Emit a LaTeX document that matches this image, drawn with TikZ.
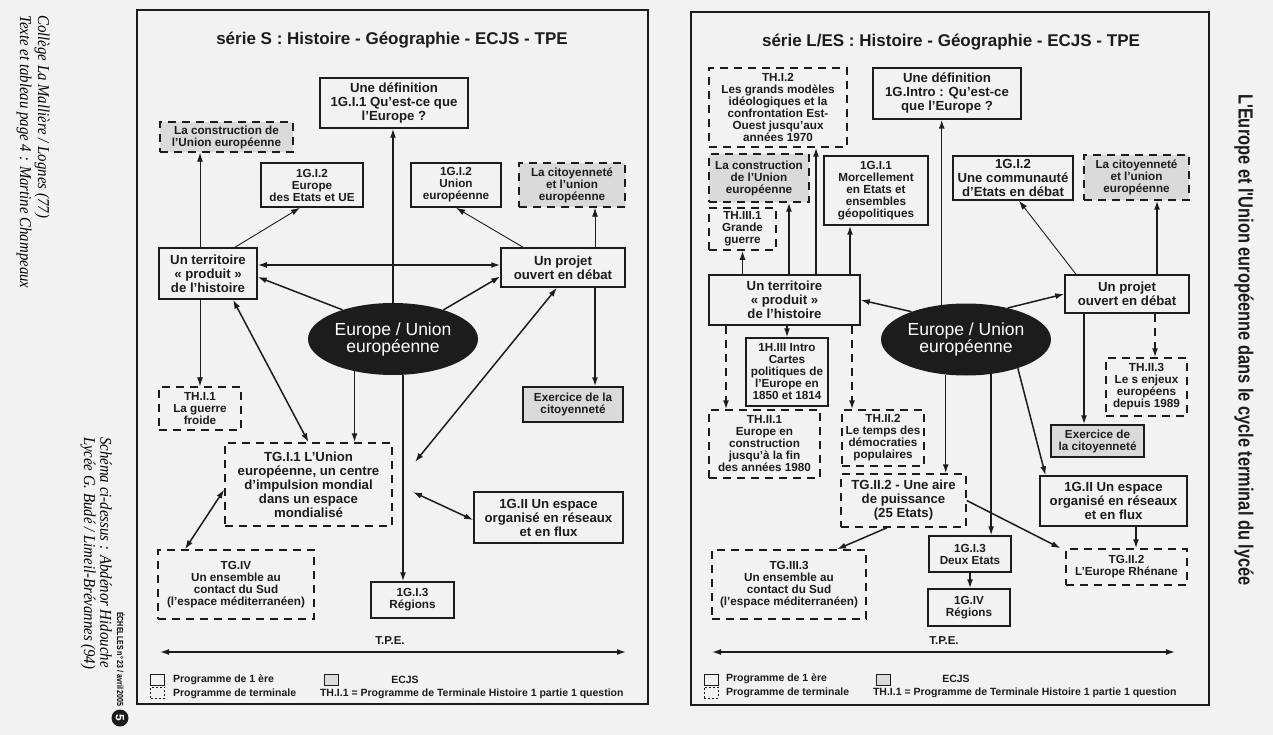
\documentclass[tikz,border=0pt]{standalone}
\usepackage{fontspec}
\setmainfont{Liberation Sans}
\newfontfamily\mgfont[FakeStretch=0.9]{Liberation Serif}
\newfontfamily\cndfont[FakeStretch=0.8]{Liberation Sans}
\usetikzlibrary{arrows.meta,shapes.geometric}
\definecolor{paper}{HTML}{F2F2F2}
\definecolor{ink}{HTML}{1C1C1C}
\definecolor{ecjsgray}{HTML}{DADADA}
\newcommand\bigtxt{\fontsize{13.2}{14}\selectfont\bfseries}
\newcommand\smltxt{\fontsize{11.7}{12}\selectfont\bfseries}
\newcommand\ttltxt{\fontsize{17}{20}\selectfont\bfseries}
\newcommand\eutxt{\fontsize{17.5}{17}\selectfont}
\newcommand\lgdtxt{\fontsize{10.5}{12}\selectfont\bfseries}
\newcommand\tpetxt{\fontsize{11.5}{13}\selectfont\bfseries}
\newcommand\mgtxt{\mgfont\itshape\fontsize{16.5}{18}\selectfont}
\newcommand\rttxt{\cndfont\bfseries\fontsize{20.5}{22}\selectfont}
\newcommand\echtxt{\cndfont\bfseries\fontsize{8.8}{10}\selectfont}

\begin{document}
\begin{tikzpicture}[x=1pt,y=-1pt,
    box/.style={draw=ink,line width=1.5pt,align=center,inner sep=2pt,fill=paper,text=ink},
    prem/.style={box},
    term/.style={box,dash pattern=on 8pt off 6pt},
    ecjs/.style={fill=ecjsgray},
    bigtx/.style={font=\bigtxt},
    smtx/.style={font=\smltxt},
    sz/.style 2 args={minimum width=#1pt,minimum height=#2pt},
    eu/.style={ellipse,fill=ink,text=white,font=\eutxt,align=center,
               minimum width=170pt,minimum height=72pt,inner sep=0pt},
    ttl/.style={font=\ttltxt,text=ink},
    lnk/.style={-{Latex[length=9pt,width=6pt]},line width=1.5pt,draw=ink},
    thn/.style={lnk,line width=0.9pt},
    dbl/.style={lnk,{Latex[length=9pt,width=6pt]}-{Latex[length=9pt,width=6pt]}},
    dsh/.style={lnk,dash pattern=on 8pt off 6pt},
    frm/.style={draw=ink,line width=1.8pt},
    lgd/.style={draw=ink,line width=0.8pt,minimum width=14pt,minimum height=11pt,inner sep=0pt},
    lgdtx/.style={font=\lgdtxt,text=ink},
    mrg/.style={rotate=-90,font=\mgtxt,inner sep=0pt,anchor=west}]

  \fill[paper] (0,0) rectangle (1273,735);
  \useasboundingbox (0,0) rectangle (1273,735);

  % margins
  \node[mrg] (credA) at (24,15) {Texte et tableau page 4 : Martine Champeaux};
  \node[mrg] (credB) at (42,15) {Collège La Mallière / Lognes (77)};
  \node[mrg] (credD) at (88,437) {Lycée G. Budé / Limeil-Brévannes (94)};
  \node[mrg] (credC) at (106,437) {Schéma ci-dessus : Abdénor Hidouche};
  \node[rotate=-90,anchor=west,font=\echtxt,inner sep=0pt] (issue) at (121,612)
    {ÉCHELLES n° 23 / avril 2005};
  \node[circle,fill=ink,text=white,minimum size=17pt,inner sep=0pt,
        font=\bfseries\fontsize{12}{12}\selectfont,rotate=-90] (pgnum) at (120,718) {5};
  \node[rotate=-90,font=\rttxt,inner sep=0pt,text=ink] (sideT) at (1244,340)
    {L'Europe et l'Union européenne dans le cycle terminal du lycée};

  % serie S
  \draw[frm] (137,10) rectangle (648,704);
  \node[ttl] (titleS) at (392,40) {série S : Histoire - Géographie - ECJS - TPE};
  \node[prem,bigtx,sz={148}{50}] (defS) at (394,103) {Une définition\\1G.I.1 Qu'est-ce que\\l'Europe ?};
  \node[term,ecjs,smtx,sz={133}{30}] (constrS) at (226.5,137) {La construction de\\l'Union européenne};
  \node[prem,smtx,sz={102}{44}] (etatsS) at (312,185) {1G.I.2\\Europe\\des Etats et UE};
  \node[prem,smtx,sz={90}{44}] (uniS) at (456,185) {1G.I.2\\Union\\européenne};
  \node[term,ecjs,smtx,sz={106}{44}] (citS) at (572,185) {La citoyenneté\\et l'union\\européenne};
  \node[prem,bigtx,sz={98}{51}] (terrS) at (208,273.5) {Un territoire\\«~produit~»\\de l'histoire};
  \node[prem,bigtx,sz={124}{39}] (projS) at (563,267.5) {Un projet\\ouvert en débat};
  \node[eu] (euS) at (393,339) {Europe / Union\\européenne};
  \node[term,smtx,sz={82}{43}] (guerreS) at (200,408.5) {TH.I.1\\La guerre\\froide};
  \node[prem,ecjs,smtx,sz={100}{35}] (exoS) at (573,404.5) {Exercice de la\\citoyenneté};
  \node[term,bigtx,sz={167}{83}] (tgiS) at (308.5,484.5)
    {TG.I.1 L'Union\\européenne, un centre\\d'impulsion mondial\\dans un espace\\mondialisé};
  \node[term,smtx,sz={156}{69}] (tgivS) at (236,584.5)
    {TG.IV\\Un ensemble au\\contact du Sud\\(l'espace méditerranéen)};
  \node[prem,smtx,sz={83}{36}] (regS) at (412.5,600) {1G.I.3\\Régions};
  \node[prem,bigtx,sz={149}{51}] (espS) at (548.5,517.5) {1G.II Un espace\\organisé en réseaux\\et en flux};
  \node[font=\tpetxt,text=ink] (tpeS) at (390,641) {T.P.E.};

  \draw[thn] (guerreS |- terrS.north) -- (guerreS |- constrS.south);
  \draw[thn] ([xshift=27pt]terrS.north) -- ([xshift=-12pt]etatsS.south);
  \draw[lnk] (euS.north) -- (euS.north |- defS.south);
  \draw[thn] ([xshift=-40pt]projS.north) -- (uniS.south);
  \draw[thn] ([xshift=32pt]projS.north) -- ([xshift=32pt]projS.north |- citS.south);
  \draw[dbl] ([yshift=2.5pt]projS.west -| terrS.east) -- ([yshift=2.5pt]projS.west);
  \draw[lnk] (euS.150) -- ([yshift=-3.5pt]terrS.east);
  \draw[lnk] (euS.30) -- ([yshift=-9pt]projS.west);
  \draw[thn] (guerreS |- terrS.south) -- (guerreS.north);
  \draw[lnk] ([xshift=32pt]projS.south) -- ([xshift=32pt]projS.south |- exoS.north);
  \draw[dbl] ([xshift=25pt]terrS.south) -- (tgiS.north);
  \draw[lnk] (euS.220) -- (euS.220 |- tgiS.north);
  \draw[lnk] ([xshift=10pt]euS.south) -- ([xshift=10pt]euS.south |- regS.north);
  \coordinate (axS1) at (415,462);
  \coordinate (axS2) at (413,492);
  \draw[dbl] (axS1) -- ([xshift=-6pt]projS.south);
  \draw[dbl] (axS2) -- ([yshift=-2.5pt]espS.west);
  \draw[dbl] ([xshift=-51pt]tgivS.north) -- ([yshift=-5pt]tgiS.west);
  \coordinate (tpeSw) at (160,652);
  \coordinate (tpeSe) at (626,652);
  \draw[dbl] (tpeSw) -- (tpeSe);

  \node[lgd] (sq1S) at (157.5,679.5) {};
  \node[lgd,dash pattern=on 2pt off 2pt] (sq2S) at (157.5,692.5) {};
  \node[lgd,fill=ecjsgray] (sq3S) at (331,679.5) {};
  \node[lgdtx,anchor=west] (lg1S) at (169.5,680) {Programme de 1 ère};
  \node[lgdtx,anchor=west] (lg2S) at (169.5,694) {Programme de terminale};
  \node[lgdtx] (lg3S) at (405,680) {ECJS};
  \node[lgdtx,anchor=west] (lg4S) at (316.5,694) {TH.I.1 = Programme de Terminale Histoire 1 partie 1 question};

  % serie L/ES
  \draw[frm] (691,12) rectangle (1209,705);
  \node[ttl] (titleR) at (951,42) {série L/ES : Histoire - Géographie - ECJS - TPE};
  \node[term,smtx,sz={138}{79}] (th12R) at (778,107.5)
    {TH.I.2\\Les grands modèles\\idéologiques et la\\confrontation Est-\\Ouest jusqu'aux\\années 1970};
  \node[prem,bigtx,sz={148}{51}] (defR) at (947,93.5) {Une définition\\1G.Intro : Qu'est-ce\\que l'Europe ?};
  \node[term,ecjs,smtx,sz={100}{48}] (constrR) at (759,178) {La construction\\de l'Union\\européenne};
  \node[prem,smtx,sz={104}{69}] (morcR) at (876,190.5)
    {1G.I.1\\Morcellement\\en Etats et\\ensembles\\géopolitiques};
  \node[prem,bigtx,sz={120}{44}] (commR) at (1013,178) {1G.I.2\\Une communauté\\d'Etats en débat};
  \node[term,ecjs,smtx,sz={105}{45}] (citR) at (1136.5,177.5) {La citoyenneté\\et l'union\\européenne};
  \node[term,smtx,sz={67}{42}] (guerreR) at (742.5,229) {TH.III.1\\Grande\\guerre};
  \node[prem,bigtx,sz={151}{50}] (terrR) at (784.5,300) {Un territoire\\«~produit~»\\de l'histoire};
  \node[prem,bigtx,sz={124}{38}] (projR) at (1127,294) {Un projet\\ouvert en débat};
  \node[eu] (euR) at (966,339.5) {Europe / Union\\européenne};
  \node[prem,smtx,sz={82}{68}] (introR) at (787,372)
    {1H.III Intro\\Cartes\\politiques de\\l'Europe en\\1850 et 1814};
  \node[term,smtx,sz={111}{68}] (th21R) at (764.5,444)
    {TH.II.1\\Europe en\\construction\\jusqu'à la fin\\des années 1980};
  \node[term,smtx,sz={82}{56}] (th22R) at (883,438) {TH.II.2\\Le temps des\\démocraties\\populaires};
  \node[term,smtx,sz={81}{58}] (th23R) at (1146.5,387) {TH.II.3\\Le s enjeux\\européens\\depuis 1989};
  \node[prem,ecjs,smtx,sz={93}{32}] (exoR) at (1097.5,441) {Exercice de\\la citoyenneté};
  \node[term,bigtx,sz={125}{53}] (tg22R) at (903.5,500.5) {TG.II.2 - Une aire\\de puissance\\(25 Etats)};
  \node[prem,bigtx,sz={147}{50}] (espR) at (1113.5,501) {1G.II Un espace\\organisé en réseaux\\et en flux};
  \node[term,smtx,sz={121}{36}] (rhenR) at (1126.5,567) {TG.II.2\\L'Europe Rhénane};
  \node[term,smtx,sz={154}{69}] (tg33R) at (789,584.5)
    {TG.III.3\\Un ensemble au\\contact du Sud\\(l'espace méditerranéen)};
  \node[prem,smtx,sz={82}{36}] (deuxR) at (970,554) {1G.I.3\\Deux Etats};
  \node[prem,smtx,sz={82}{37}] (regR) at (969,607.5) {1G.IV\\Régions};
  \node[font=\tpetxt,text=ink] (tpeR) at (944,641) {T.P.E.};

  \draw[lnk] (guerreR |- terrR.north) -- (guerreR.south);
  \draw[lnk] ([xshift=4.5pt]terrR.north) -- ([xshift=4.5pt]terrR.north |- constrR.south);
  \draw[lnk] ([xshift=31.5pt]terrR.north) -- ([xshift=31.5pt]terrR.north |- th12R.south);
  \draw[lnk] ([xshift=65.5pt]terrR.north) -- ([xshift=65.5pt]terrR.north |- morcR.south);
  \draw[lnk] (euR.125) -- (euR.125 |- defR.south);
  \draw[thn] ([xshift=-51pt]projR.north) -- ([xshift=6pt]commR.south);
  \draw[lnk] ([xshift=30pt]projR.north) -- ([xshift=30pt]projR.north |- citR.south);
  \draw[lnk] (euR.153) -- (terrR.east);
  \draw[lnk] (euR.37) -- (projR.west);
  \draw[dsh] ([xshift=-58.5pt]terrR.south) -- ([xshift=-58.5pt]terrR.south |- th21R.north);
  \draw[dsh] ([xshift=67.5pt]terrR.south) -- ([xshift=67.5pt]terrR.south |- th22R.north);
  \draw[lnk] (introR |- terrR.south) -- (introR.north);
  \draw[lnk] (euR.240) -- (euR.240 |- tg22R.north);
  \draw[lnk] (euR.306) -- (euR.306 |- deuxR.north);
  \draw[lnk] (euR.331) -- ([xshift=-68pt]espR.north);
  \draw[lnk] ([xshift=-43pt]projR.south) -- ([xshift=-43pt]projR.south |- exoR.north);
  \draw[dsh] ([xshift=28pt]projR.south) -- ([xshift=28pt]projR.south |- th23R.north);
  \draw[lnk] (tg22R.east) -- ([xshift=-66pt]rhenR.north);
  \draw[lnk] ([xshift=22.5pt]espR.south) -- ([xshift=22.5pt]espR.south |- rhenR.north);
  \draw[lnk] ([xshift=-16.5pt]tg22R.south) -- ([xshift=48pt]tg33R.north);
  \draw[lnk] (deuxR.south) -- (deuxR.south |- regR.north);
  \coordinate (tpeRw) at (712,652);
  \coordinate (tpeRe) at (1175,652);
  \draw[dbl] (tpeRw) -- (tpeRe);

  \node[lgd] (sq1R) at (711,679.5) {};
  \node[lgd,dash pattern=on 2pt off 2pt] (sq2R) at (711,692.5) {};
  \node[lgd,fill=ecjsgray] (sq3R) at (883.5,679.5) {};
  \node[lgdtx,anchor=west] (lg1R) at (722.5,679) {Programme de 1 ère};
  \node[lgdtx,anchor=west] (lg2R) at (722.5,693) {Programme de terminale};
  \node[lgdtx] (lg3R) at (956,679) {ECJS};
  \node[lgdtx,anchor=west] (lg4R) at (869.5,693) {TH.I.1 = Programme de Terminale Histoire 1 partie 1 question};
\end{tikzpicture}
\end{document}
